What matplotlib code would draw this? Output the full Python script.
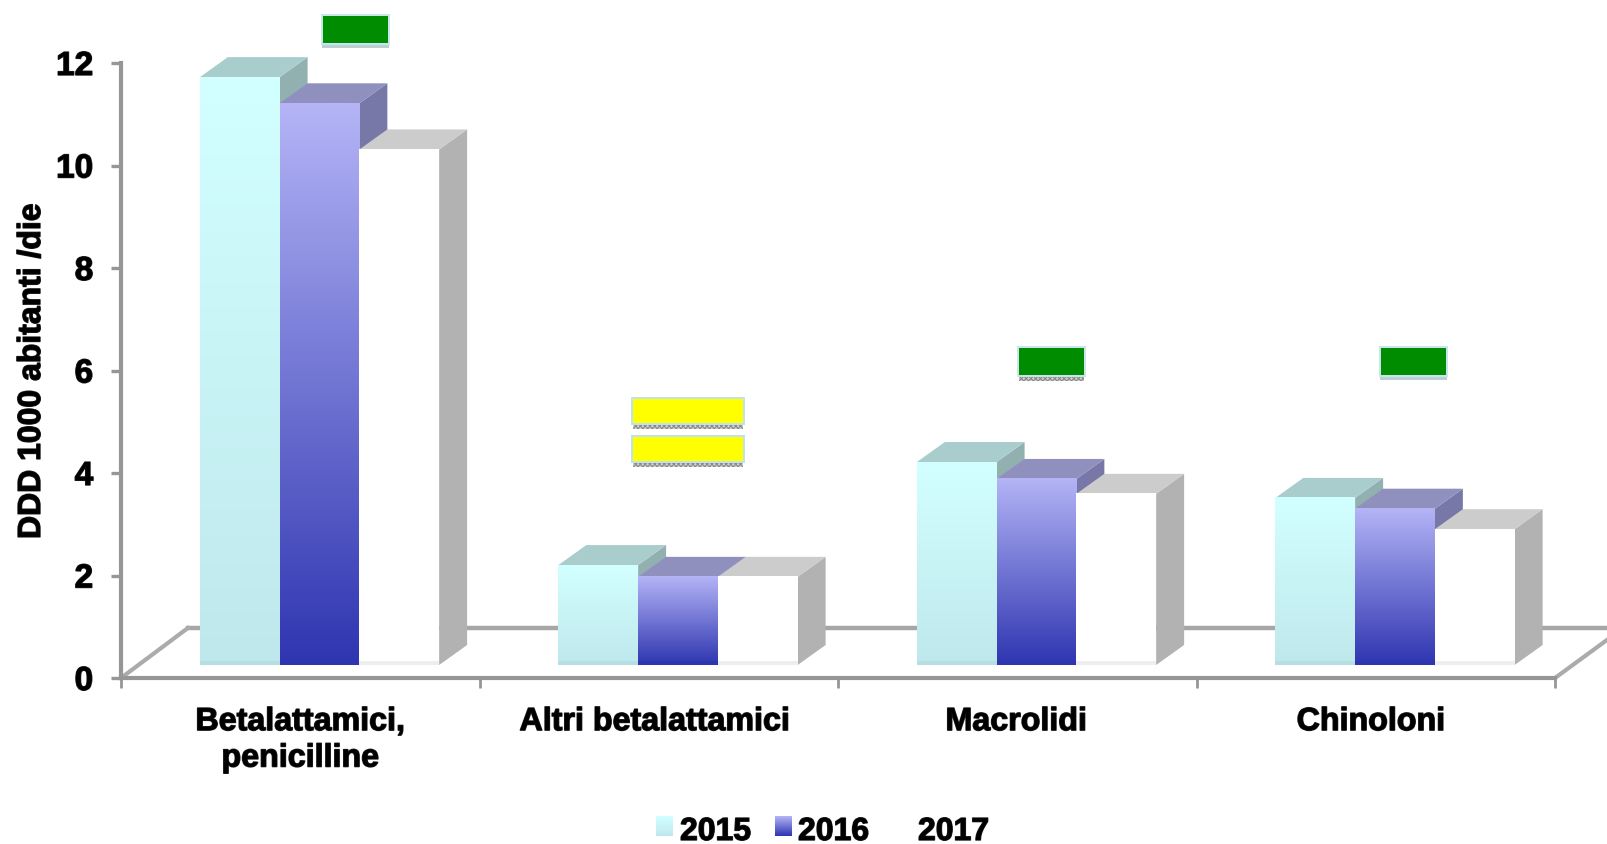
import numpy as np
import matplotlib
matplotlib.use('Agg')
import matplotlib.pyplot as plt
from matplotlib.colors import LinearSegmentedColormap
from matplotlib.patches import Polygon, Rectangle
from matplotlib.text import Text
import matplotlib.patheffects as pe

plt.rcParams['font.family'] = ['Liberation Sans', 'DejaVu Sans']
plt.rcParams['font.weight'] = 'bold'
plt.rcParams['axes.labelweight'] = 'bold'
plt.rcParams['hatch.linewidth'] = 0.8

categories = ['Betalattamici,\npenicilline', 'Altri betalattamici', 'Macrolidi', 'Chinoloni']
label_pos = [0.5, 1.489, 2.497, 3.486]
years = ['2015', '2016', '2017']
v2015 = [11.47, 1.95, 3.96, 3.26]
v2016 = [10.96, 1.72, 3.63, 3.05]
v2017 = [10.06, 1.72, 3.34, 2.65]
y_ticks = [0, 2, 4, 6, 8, 10, 12]

W, H = 1607, 845
# 3d look, in data units
bar_w = 0.2225
bar_start = 0.22
base = 13 / 51.25
dx = 28 / 359
dy = 20 / 51.25

front_cols = [('#D2FFFF', '#BFE8EC'), ('#B4B4F6', '#2E35B0'), ('#FFFFFF', '#FFFFFF')]
top_cols = ['#A9CCCC', '#9090BF', '#CCCCCC']
side_cols = ['#92B0B0', '#7878A8', '#B2B2B2']
strip_cols = ['#B5DFE3', '#2E35B0', '#EEEEEE']
gray = '#969696'

fig = plt.figure(figsize=(W / 100, H / 100), dpi=100)
ax = fig.add_axes([121 / W, 1 - 679 / H, (1555 - 121) / W, (679 - 64) / H])
ax.patch.set_alpha(0)


def px_rect(x0, y0, x1, y1, color, z=5, hatch=None):
    fig.add_artist(Rectangle((x0 / W, 1 - y1 / H), (x1 - x0) / W, (y1 - y0) / H,
                             transform=fig.transFigure, fc=color, ec='#8A8A8A' if hatch else 'none',
                             lw=0, hatch=hatch, zorder=z))


def draw_bar(x, v, k, z):
    c = LinearSegmentedColormap.from_list('g', front_cols[k])
    grad = np.linspace(0, 1, 256)[:, None]
    x1 = x + bar_w
    ax.add_patch(Polygon([(x1, base), (x1 + dx, base + dy), (x1 + dx, base + v + dy), (x1, base + v)],
                         fc=side_cols[k], ec='none', zorder=z, clip_on=False))
    ax.add_patch(Polygon([(x, base + v), (x + dx, base + v + dy), (x1 + dx, base + v + dy), (x1, base + v)],
                         fc=top_cols[k], ec='none', zorder=z, clip_on=False))
    ax.imshow(grad, cmap=c, aspect='auto', extent=(x, x1, base, base + v), zorder=z, clip_on=False)
    ax.add_patch(Rectangle((x, base), bar_w, 4 / 51.25, fc=strip_cols[k], ec='none', zorder=z, clip_on=False))


# floor, behind the bars
back_y = 50 / 51.25
ax.plot([67 / 359, 4 + 52 / 359], [back_y, back_y], color='#A6A6A6', lw=3.2, zorder=1, clip_on=False)
ax.plot([0, 67 / 359], [0, back_y], color='#ABABAB', lw=3, zorder=1, clip_on=False)
ax.plot([4, 4 + 52 / 359], [0, 38 / 51.25], color='#ABABAB', lw=3, zorder=1, clip_on=False)

series = [v2015, v2016, v2017]
z = 3
for i in range(len(categories)):
    for k, vals in enumerate(series):
        draw_bar(i + bar_start + k * bar_w, vals[i], k, z)
        z += 1

ax.set_xlim(0, 4)
ax.set_ylim(0, 12)

for s in ['top', 'right']:
    ax.spines[s].set_visible(False)
for s in ['left', 'bottom']:
    ax.spines[s].set_color(gray)
    ax.spines[s].set_linewidth(3)
    ax.spines[s].set_zorder(30)

ax.set_yticks(y_ticks)
ax.set_yticklabels([str(t) for t in y_ticks], fontsize=24)
ax.tick_params(axis='y', length=7, width=2.4, color=gray, pad=13)
ax.set_xticks(range(5))
ax.set_xticklabels([])
ax.tick_params(axis='x', which='major', length=7, width=2, color=gray)
ax.set_xticks(label_pos, minor=True)
ax.set_xticklabels(categories, minor=True, fontsize=23.2, linespacing=1.28)
ax.tick_params(axis='x', which='minor', length=0, pad=21)
ax.set_ylabel('DDD 1000 abitanti /die', fontsize=23)
ax.yaxis.set_label_coords((47 - 121) / (1555 - 121), (679 - 372) / (679 - 64))

# trend boxes above the groups
for x0, y0, dotted in [(323, 17, False), (1019, 349, True), (1381, 349, False)]:
    px_rect(x0 - 2, y0 - 2, x0 + 67, y0 + 29, '#C8E6EA')
    px_rect(x0, y0, x0 + 65, y0 + 27, '#008C00', 6)
    if dotted:
        px_rect(x0, y0 + 29, x0 + 65, y0 + 33, '#D0D0D0', 6, hatch='xxxxxxx')
    else:
        px_rect(x0 - 1, y0 + 29, x0 + 66, y0 + 32, '#BBD0D4', 6)
for y0 in [400, 438]:
    px_rect(631, y0 - 2, 745, y0 + 26, '#BFE3E8')
    px_rect(633, y0, 743, y0 + 24, '#FFFF00', 6)
    px_rect(633, y0 + 26, 743, y0 + 30, '#D0D0D0', 6, hatch='xxxxxxx')

# legend
for x0, k in [(656, 0), (775, 1)]:
    c = LinearSegmentedColormap.from_list('g', [front_cols[k][0], front_cols[k][1]])
    lax = fig.add_axes([x0 / W, 1 - 837 / H, 17 / W, 20 / H])
    lax.imshow(np.linspace(0, 1, 64)[:, None], cmap=c, aspect='auto')
    lax.axis('off')
for x0, lab in zip([680, 798, 918], years):
    fig.text(x0 / W, 1 - 841 / H, lab, fontsize=23, ha='left', va='baseline')

# the text in the picture is heavy and a bit smeared
for t in fig.findobj(Text):
    t.set_path_effects([pe.withStroke(linewidth=1.0, foreground='#222222')])

fig.savefig('out.png', dpi=100)
